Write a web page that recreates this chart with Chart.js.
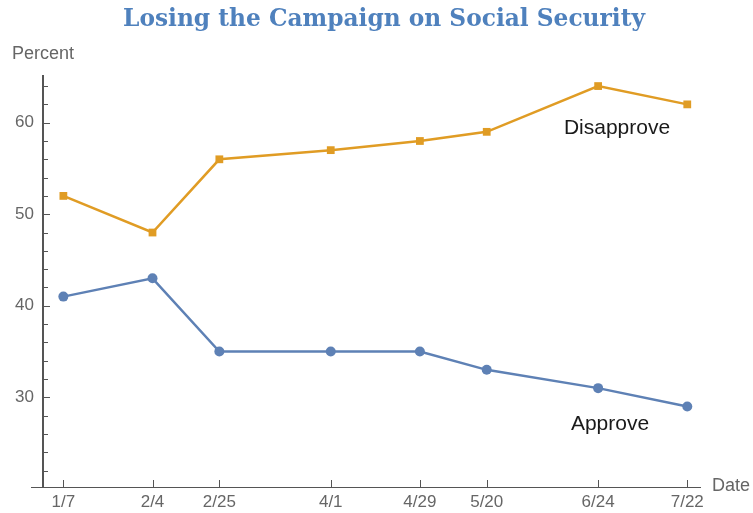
<!DOCTYPE html>
<html>
<head>
<meta charset="utf-8">
<script src="https://cdn.jsdelivr.net/npm/chart.js@4/dist/chart.umd.min.js"></script>
<style>
    html, body { margin: 0; padding: 0; background: #ffffff; }
</style>
</head>
<body>
<canvas id="chart" width="753" height="513"></canvas>
<script>
// poll dates, and day offsets from 1/7 so the x axis keeps the real spacing
const dateLabels = ["1/7", "2/4", "2/25", "4/1", "4/29", "5/20", "6/24", "7/22"];
const dayOffsets = [0, 28, 49, 84, 112, 133, 168, 196];
const approveValues = [41, 43, 35, 35, 35, 33, 31, 29];
const disapproveValues = [52, 48, 56, 57, 58, 59, 64, 62];
const yMajorTicks = [30, 40, 50, 60];
const yMinorTicks = [22, 24, 26, 28, 32, 34, 36, 38, 42, 44, 46, 48, 52, 54, 56, 58, 62, 64];

const blue = "#5e81b5";
const orange = "#e09c24";
const axisColor = "#555555";
const tickTextColor = "#666666";
const sansFont = "'Liberation Sans', Arial, sans-serif";
const titleText = "Losing the Campaign on Social Security";

function toPoints (values) {
    return values.map((v, i) => ({ x: dayOffsets[i], y: v }));
}

const axisDecor = {
    id: "axisDecor",
    afterDraw (chart) {
        const { ctx, chartArea, scales: { x, y } } = chart;
        ctx.save();
        ctx.strokeStyle = axisColor;
        ctx.lineWidth = 1;
        ctx.beginPath();
        // x axis runs a little past the y axis on the left
        ctx.moveTo(chartArea.left - 12, chartArea.bottom + 0.5);
        ctx.lineTo(chartArea.left, chartArea.bottom + 0.5);
        yMajorTicks.forEach(v => {
            const p = Math.round(y.getPixelForValue(v)) + 0.5;
            ctx.moveTo(chartArea.left, p);
            ctx.lineTo(chartArea.left + 7, p);
        });
        yMinorTicks.forEach(v => {
            const p = Math.round(y.getPixelForValue(v)) + 0.5;
            ctx.moveTo(chartArea.left, p);
            ctx.lineTo(chartArea.left + 5, p);
        });
        dayOffsets.forEach(v => {
            const p = Math.round(x.getPixelForValue(v)) + 0.5;
            ctx.moveTo(p, chartArea.bottom);
            ctx.lineTo(p, chartArea.bottom - 7);
        });
        ctx.stroke();

        ctx.textBaseline = "middle";
        ctx.textAlign = "center";
        ctx.font = "bold 23.3px 'DejaVu Serif', serif";
        ctx.fillStyle = "#4f81bd";
        ctx.fillText(titleText, 384, 20);

        ctx.font = "18px " + sansFont;
        ctx.fillStyle = tickTextColor;
        ctx.textAlign = "left";
        ctx.fillText("Percent", 12, 54);
        ctx.fillText("Date", 712, 486);

        ctx.font = "21px " + sansFont;
        ctx.fillStyle = "#1a1a1a";
        ctx.textAlign = "center";
        ctx.fillText("Disapprove", 617, 128);
        ctx.fillText("Approve", 610, 424);
        ctx.restore();
    }
};

const ctx = document.getElementById("chart");

const graph = new Chart(ctx, {
    type: "line",
    data: {
        datasets: [{
            label: "Disapprove",
            data: toPoints(disapproveValues),
            borderColor: orange,
            backgroundColor: orange,
            borderWidth: 2.5,
            pointStyle: "rect",
            pointRadius: 5.5,
            pointBorderWidth: 0,
            tension: 0
        },
        {
            label: "Approve",
            data: toPoints(approveValues),
            borderColor: blue,
            backgroundColor: blue,
            borderWidth: 2.5,
            pointStyle: "circle",
            pointRadius: 5,
            pointBorderWidth: 0,
            tension: 0
        }]
    },
    options: {
        responsive: false,
        animation: false,
        layout: {
            padding: { top: 76, right: 53, bottom: 0, left: 0 }
        },
        scales: {
            x: {
                type: "linear",
                min: -6.4,
                max: 200,
                afterFit: function (scale) { scale.height = 26; },
                afterBuildTicks: function (scale) {
                    scale.ticks = dayOffsets.map(v => ({ value: v }));
                },
                grid: { display: false, drawTicks: false },
                border: { display: true, color: axisColor, width: 1 },
                ticks: {
                    autoSkip: false,
                    maxRotation: 0,
                    padding: 5,
                    color: tickTextColor,
                    font: { family: sansFont, size: 17 },
                    callback: function (value) {
                        const i = dayOffsets.indexOf(value);
                        return i >= 0 ? dateLabels[i] : "";
                    }
                }
            },
            y: {
                min: 20.2,
                max: 65.1,
                afterFit: function (scale) { scale.width = 43; },
                afterBuildTicks: function (scale) {
                    scale.ticks = yMinorTicks.concat(yMajorTicks)
                        .sort((a, b) => a - b)
                        .map(v => ({ value: v }));
                },
                grid: { display: false, drawTicks: false },
                border: { display: true, color: axisColor, width: 2 },
                ticks: {
                    autoSkip: false,
                    padding: 9,
                    color: tickTextColor,
                    font: { family: sansFont, size: 17 },
                    callback: function (value) {
                        return yMajorTicks.includes(value) ? String(value) : "";
                    }
                }
            }
        },
        plugins: {
            title: { display: false },
            legend: { display: false },
            tooltip: { enabled: false }
        }
    },
    plugins: [axisDecor]
});
</script>
</body>
</html>
